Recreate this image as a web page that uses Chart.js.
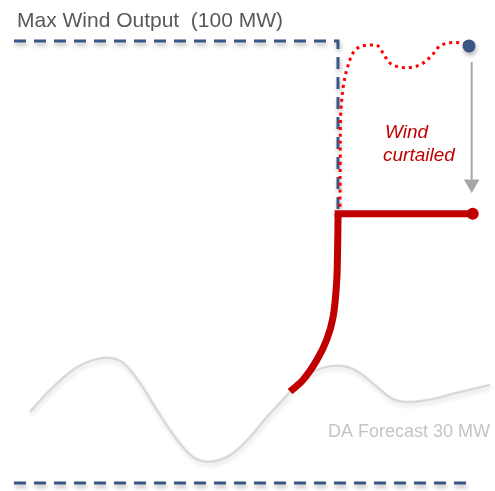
<!DOCTYPE html>
<html><head><meta charset="utf-8">
<script src="https://cdn.jsdelivr.net/npm/chart.js@4/dist/chart.umd.min.js"></script>
<style>html,body{margin:0;padding:0;background:#fff;}canvas{display:block;}</style>
</head><body>
<canvas id="c" width="495" height="491"></canvas>
<script>
// ---- data (x: time index 0-100, y: MW) ----
const forecastX  = [6.06,10.1,14.75,18.8,22.2,24.85,28.3,31.7,35.8,39.0,42.4,46.5,50.5,53.9,58.0,60.6,64.0,67.3,70.1,72.7,76.2,79.4,82.8,87.5,92.3,96.4,99.0];
const forecastMW = [16.1,21.0,25.6,27.8,28.3,27.2,22.6,16.5,9.7,5.9,4.8,6.3,10.4,14.9,19.9,23.3,25.6,26.5,26.3,24.9,21.7,19.0,18.3,19.0,20.4,21.5,22.2];
const rampX  = [58.6,61.2,64.0,66.0,67.3,68.0,68.2,68.3];
const rampMW = [20.7,23.3,27.8,32.4,37.6,45.3,52.7,60.9];
const capX  = [68.3,95.5];
const capMW = [60.9,60.9];
const potentialX  = [68.69,68.73,68.83,69.35,70.04,71.31,72.73,75.09,76.36,77.37,78.79,80.81,83.43,85.45,87.27,88.89,90.91,92.93,94.75];
const potentialMW = [62.5,73.1,83.3,89.7,93.4,97.3,98.7,99.1,98.9,97.3,95.0,94.1,94.1,95.0,96.8,98.9,99.6,99.6,98.9];
const maxX  = [2.83,68.28,68.28];
const maxMW = [100,100,60.6];
const floorX  = [2.83,94.55];
const floorMW = [0,0];
const arrowX  = [95.29,95.29];
const arrowMW = [95.25,68.6];
const arrowHeadMW = 67.65;
const labels = ["Max Wind Output  (100 MW)", "Wind", "curtailed", "DA Forecast 30 MW"];

const pts = (xs, ys) => xs.map((x, i) => ({x, y: ys[i]}));

// ---- layout / styles ----
const NAVY = '#3a5683', RED = '#c00000', BRIGHT = '#ff0000', GREY = '#d9d9d9', ARROW = '#a6a6a6';
const labelLayout = [
  {x: 3.43, y: 103.24, font: '21px "Liberation Sans", Arial, sans-serif', color: '#595959'},
  {x: 77.78, y: 78.13, font: 'italic 19px "Liberation Sans", Arial, sans-serif', color: RED},
  {x: 77.37, y: 72.92, font: 'italic 19px "Liberation Sans", Arial, sans-serif', color: RED},
  {x: 66.26, y: 10.48, font: '18px "Liberation Sans", Arial, sans-serif', color: '#c4c4c4'}
];

const shadowPlugin = {
  id: 'shadow',
  beforeDatasetDraw(chart, args) {
    const ds = chart.data.datasets[args.index];
    if (ds.shadow) {
      const ctx = chart.ctx; ctx.save();
      ctx.shadowColor = ds.shadow; ctx.shadowBlur = 4; ctx.shadowOffsetX = 1; ctx.shadowOffsetY = 3;
    }
  },
  afterDatasetDraw(chart, args) {
    if (chart.data.datasets[args.index].shadow) chart.ctx.restore();
  }
};
const textPlugin = {
  id: 'texts',
  afterDatasetsDraw(chart) {
    const ctx = chart.ctx, xs = chart.scales.x, ys = chart.scales.y;
    ctx.save();
    ctx.textAlign = 'left'; ctx.textBaseline = 'alphabetic';
    labels.forEach((t, i) => {
      const l = labelLayout[i];
      ctx.font = l.font; ctx.fillStyle = l.color;
      ctx.fillText(t, xs.getPixelForValue(l.x), ys.getPixelForValue(l.y));
    });
    ctx.restore();
  }
};

const line = (data, extra) => Object.assign({data, pointRadius: 0, fill: false, clip: false, borderCapStyle: 'butt'}, extra);

new Chart(document.getElementById('c'), {
  type: 'line',
  data: {
    datasets: [
      line(pts(forecastX, forecastMW), {borderColor: GREY, borderWidth: 2.5, tension: 0.35, order: 10, shadow: 'rgba(0,0,0,0.12)'}),
      line(pts(floorX, floorMW), {borderColor: NAVY, borderWidth: 3, borderDash: [12, 8], order: 9, shadow: 'rgba(0,0,0,0.3)'}),
      line(pts(maxX, maxMW), {borderColor: NAVY, borderWidth: 3, borderDash: [12, 8], order: 9, borderJoinStyle: 'miter', shadow: 'rgba(0,0,0,0.3)'}),
      line(pts(arrowX, arrowMW), {borderColor: ARROW, borderWidth: 2, order: 8}),
      line([{x: arrowX[1], y: arrowHeadMW}], {showLine: false, pointRadius: 9, pointStyle: 'triangle', rotation: 180, backgroundColor: ARROW, borderColor: ARROW, borderWidth: 0, pointBorderWidth: 0, order: 8}),
      line(pts(potentialX, potentialMW), {borderColor: BRIGHT, borderWidth: 3, borderDash: [3, 4], tension: 0.35, order: 7}),
      line(pts(rampX, rampMW), {borderColor: RED, borderWidth: 7, tension: 0.35, order: 6}),
      line(pts(capX, capMW), {borderColor: RED, borderWidth: 7, borderCapStyle: 'square', order: 6}),
      line([{x: capX[1], y: capMW[1]}], {showLine: false, pointRadius: 6, backgroundColor: RED, borderColor: RED, pointBorderWidth: 0, order: 5}),
      line([{x: potentialX[potentialX.length-1], y: potentialMW[potentialMW.length-1]}], {showLine: false, pointRadius: 6.5, backgroundColor: NAVY, borderColor: NAVY, pointBorderWidth: 0, order: 5, shadow: 'rgba(0,0,0,0.3)'})
    ]
  },
  options: {
    responsive: false, animation: false, devicePixelRatio: 1,
    layout: {padding: 0, autoPadding: false},
    plugins: {legend: {display: false}, tooltip: {enabled: false}, title: {display: false}},
    events: [],
    scales: {
      x: {type: 'linear', min: 0, max: 100, display: false},
      y: {type: 'linear', min: -1.81, max: 109.28, display: false}
    }
  },
  plugins: [shadowPlugin, textPlugin]
});
</script>
</body></html>
